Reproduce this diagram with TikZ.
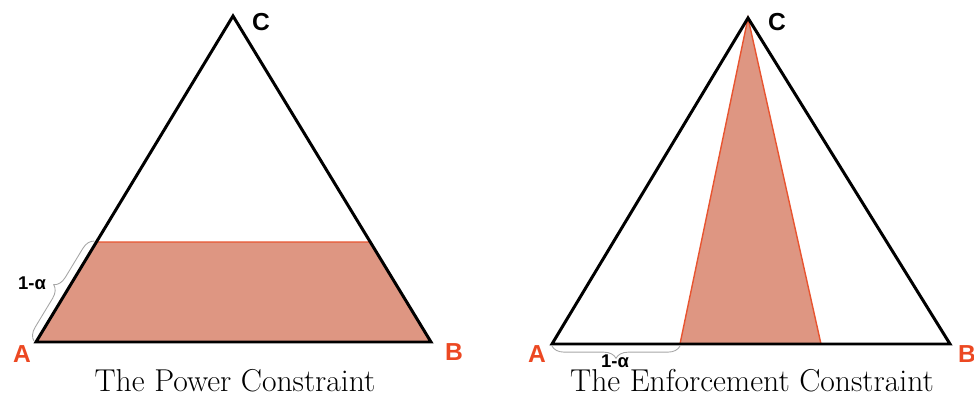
\documentclass[tikz,border=0pt]{standalone}
\usepackage{fontspec}
\usepackage{xcolor}
\usepackage{tikz}
\usetikzlibrary{decorations.pathreplacing, calc}
\newfontfamily\labelfont{Liberation Sans}
\definecolor{region}{RGB}{222, 150, 130}
\definecolor{edgered}{RGB}{232, 84, 48}
\definecolor{vertexred}{RGB}{236, 72, 34}
\tikzset{
    outline/.style={draw=black, line width=1.7pt, line join=miter},
    feasible/.style={fill=region, draw=edgered, line width=0.8pt},
    vertex/.style={font=\labelfont\bfseries\fontsize{14}{15}\selectfont, inner sep=0pt},
    corner/.style={vertex, text=vertexred},
    bracelabel/.style={font=\labelfont\bfseries\fontsize{10.5}{11}\selectfont, inner sep=0pt},
    measure/.style={draw=gray!70, line width=0.5pt, decorate, decoration={brace, amplitude=7pt}},
    caption/.style={font=\fontsize{18}{21}\selectfont, inner sep=0pt, anchor=base}
}
\begin{document}
\begin{tikzpicture}[x=0.02cm, y=-0.02cm]
        \useasboundingbox (0,0) rectangle (974,395);

        % Power constraint
        \coordinate (pA) at (36,342);
        \coordinate (pB) at (431,342);
        \coordinate (pC) at (233,16);
        \coordinate (pL) at (96.5,242);
        \coordinate (pR) at (370.5,242);
        \path [feasible] (pA) -- (pB) -- (pR) -- (pL) -- cycle;
        \draw [outline] (pA) -- (pB) -- (pC) -- cycle;
        \draw [measure] ($(pA)+(-2,-1)$) -- ($(pL)+(-2,-1)$);
        \node [corner] (pAlab) at (22,354) {A};
        \node [corner] (pBlab) at (454,352) {B};
        \node [vertex] (pClab) at (261,22) {C};
        \node [bracelabel] (palpha) at (32,283) {1-α};
        \node [caption] (pcap) at (235,391) {The Power Constraint};

        % Enforcement constraint
        \coordinate (eA) at (552,344);
        \coordinate (eB) at (950,344);
        \coordinate (eC) at (748,18);
        \coordinate (eL) at (680,344);
        \coordinate (eR) at (821,344);
        \path [feasible] (eL) -- (eC) -- (eR) -- cycle;
        \draw [outline] (eA) -- (eB) -- (eC) -- cycle;
        \draw [measure] ($(eL)+(0,2)$) -- ($(eA)+(0,2)$);
        \node [corner] (eAlab) at (537,354) {A};
        \node [corner] (eBlab) at (967,354) {B};
        \node [vertex] (eClab) at (777,22) {C};
        \node [bracelabel] (ealpha) at (615,361.5) {1-α};
        \node [caption] (ecap) at (752,391) {The Enforcement Constraint};

    \end{tikzpicture}
\end{document}
